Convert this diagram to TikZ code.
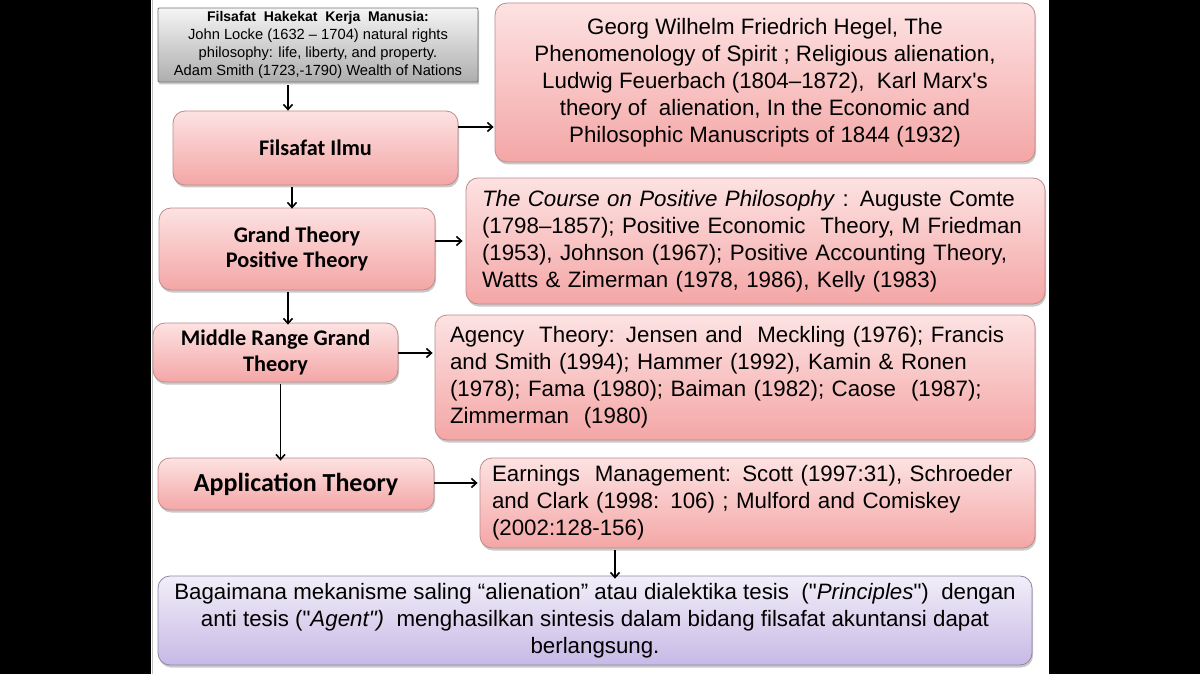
\documentclass[tikz,border=0pt]{standalone}
\usepackage{fontspec}
\setmainfont{Liberation Sans}[Ligatures=TeXOff]
\newfontfamily\calibri{Carlito}
\usetikzlibrary{arrows.meta,shadows}
\definecolor{pinktop}{HTML}{FDE2E2}
\definecolor{pinkbot}{HTML}{F4A6A6}
\definecolor{pinkline}{HTML}{C08A8A}
\definecolor{purtop}{HTML}{F2EEF8}
\definecolor{purbot}{HTML}{C7B9E6}
\definecolor{purline}{HTML}{8E86A6}
\tikzset{
  x=1pt, y=-1pt,
  pinkbox/.style={draw=pinkline, line width=0.8pt, rounded corners=12pt,
    top color=pinktop, bottom color=pinkbot,
    drop shadow={shadow xshift=1pt, shadow yshift=-2.5pt, opacity=0.35, fill=black!60},
    inner sep=0pt},
  purbox/.style={draw=purline, line width=0.8pt, rounded corners=12pt,
    top color=purtop, bottom color=purbot,
    drop shadow={shadow xshift=1pt, shadow yshift=-2.5pt, opacity=0.35, fill=black!60},
    inner sep=0pt},
  graybox/.style={draw=black!55, line width=0.8pt, rounded corners=1pt,
    top color=black!4, bottom color=black!32,
    drop shadow={shadow xshift=1pt, shadow yshift=-2.5pt, opacity=0.35, fill=black!60},
    inner sep=0pt},
  bigtxt/.style={font=\fontsize{22.3}{27}\selectfont},
  lbl/.style={font=\calibri\bfseries\fontsize{22.3}{25.5}\selectfont, align=center},
  arr/.style={-{Straight Barb[length=5pt,width=9pt]}, line width=1.6pt, black},
}
\begin{document}
\begin{tikzpicture}
\useasboundingbox (0,0) rectangle (1200,674);
\fill[black] (0,0) rectangle (1200,674);
\fill[white] (151,0) rectangle (1049,674);
\draw[black!25, line width=1pt] (152,0) -- (152,674);

% left column
\node[graybox, minimum width=320pt, minimum height=74pt, align=center,
      font=\fontsize{14.7}{18}\selectfont] (gray) at (318,45)
  {{\fontsize{14}{18}\selectfont\textbf{Filsafat\ \ Hakekat\ \ Kerja\ \ Manusia:}}\\
   John Locke (1632 – 1704) natural rights\\
   philosophy: life, liberty, and property.\\
   Adam Smith (1723,-1790) Wealth of Nations};

\node[pinkbox, lbl, minimum width=285pt, minimum height=74pt] (ilmu) at (315.5,148)
  {Filsafat Ilmu};
\node[pinkbox, lbl, minimum width=276pt, minimum height=82pt] (grand) at (297,249)
  {Grand Theory\\Positive Theory};
\node[pinkbox, lbl, minimum width=245pt, minimum height=59pt] (middle) at (275.5,352.5)
  {Middle Range Grand\\Theory};
\node[pinkbox, lbl, font=\calibri\bfseries\fontsize{26}{30}\selectfont,
      minimum width=276pt, minimum height=52pt] (app) at (296,484)
  {Application Theory};

% right column
\node[pinkbox, bigtxt, align=center, minimum width=540pt, minimum height=159pt] (hegel) at (765,82.5)
  {Georg Wilhelm Friedrich Hegel, The\\
   Phenomenology of Spirit ; Religious alienation,\\
   Ludwig Feuerbach (1804–1872),\ \ Karl Marx's\\
   theory of\ \ alienation, In the Economic and\\
   Philosophic Manuscripts of 1844\ (1932)};

\node[pinkbox, bigtxt, align=left, text width=547pt, minimum width=579pt, minimum height=126pt] (pos) at (755.5,241)
  {\textit{The Course on Positive Philosophy} : Auguste Comte\\
   (1798–1857); Positive Economic\ \ Theory, M Friedman\\
   (1953), Johnson (1967); Positive Accounting Theory,\\
   Watts \& Zimerman (1978, 1986), Kelly (1983)};

\node[pinkbox, bigtxt, align=left, text width=570pt, minimum width=600pt, minimum height=125pt] (agency) at (735,377.5)
  {Agency\ \ Theory: Jensen and\ \ Meckling (1976); Francis\\
   and Smith (1994); Hammer (1992), Kamin \& Ronen\\
   (1978); Fama (1980); Baiman (1982); Caose\ \ (1987);\\
   Zimmerman\ \ (1980)};

\node[pinkbox, bigtxt, align=left, text width=531pt, minimum width=555pt, minimum height=90pt] (earn) at (757.5,503)
  {Earnings\ \ Management: Scott (1997:31), Schroeder\\
   and Clark (1998: 106) ; Mulford and Comiskey\\
   (2002:128-156)};

\node[purbox, bigtxt, align=center, minimum width=874pt, minimum height=89pt] (final) at (595,620.5)
  {Bagaimana mekanisme saling “alienation” atau dialektika tesis\ \ ("\textit{Principles}")\ \ dengan\\
   anti tesis ("\textit{Agent")}\ \ menghasilkan sintesis dalam bidang filsafat akuntansi dapat\\
   berlangsung.};

% vertical arrows
\draw[arr] ([xshift=-30pt,yshift=-3pt]gray.south) -- ([xshift=-30pt]gray.south |- ilmu.north);
\draw[arr] ([xshift=-5pt]grand.north |- ilmu.south) ++(0,2) -- ([xshift=-5pt,yshift=-1pt]grand.north);
\draw[arr] ([xshift=-9pt,yshift=-2pt]grand.south) -- ([xshift=-9pt,yshift=-2pt]grand.south |- middle.north);
\draw[arr] ([xshift=5pt,yshift=-2pt]middle.south) -- ([xshift=5pt,yshift=-3pt]middle.south |- app.north);
\draw[arr] (earn.south -| 615,0) ++(0,2) -- ([yshift=-3pt]final.north -| 615,0);

% horizontal arrows
\draw[arr] (ilmu.east |- 0,127) -- ([xshift=-1pt]hegel.west |- 0,127);
\draw[arr] (grand.east |- 0,241) -- ([xshift=-3pt]pos.west |- 0,241);
\draw[arr] (middle.east |- 0,353) -- ([xshift=-2pt]agency.west |- 0,353);
\draw[arr] (app.east |- 0,483) -- ([xshift=-2pt]earn.west |- 0,483);
\end{tikzpicture}
\end{document}
